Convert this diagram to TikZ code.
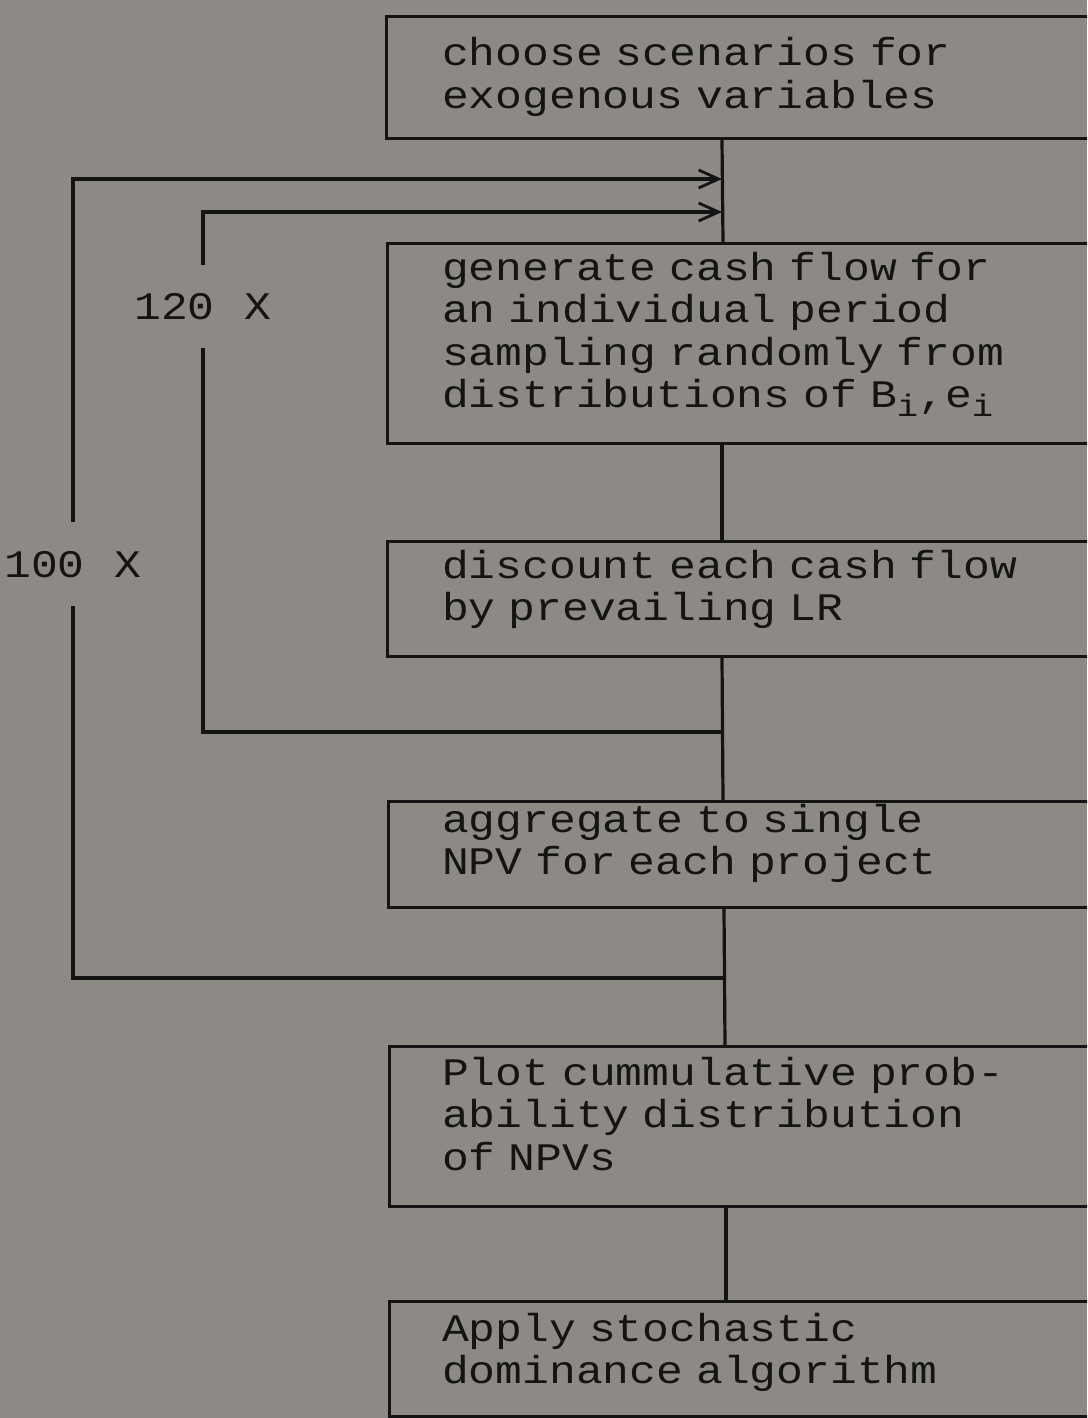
\documentclass[tikz,border=0pt]{standalone}
\usepackage{fontspec}
\newfontfamily\typefont{Liberation Mono}[FakeStretch=1.145,WordSpace=1.12]
\usetikzlibrary{arrows.meta,calc}
\definecolor{paper}{HTML}{8D8A86}
\definecolor{ink}{HTML}{141414}
\tikzset{
  stepbox/.style={draw=ink, line width=3.2pt, anchor=north west, minimum width=760pt, inner sep=0pt},
  steptext/.style={anchor=base west, text width=680pt, inner sep=0pt, align=left, text=ink, font=\typefont\fontsize{39}{42.5}\selectfont},
  looplabel/.style={inner sep=0pt, text height=26pt, text depth=0pt, text=ink, font=\typefont\fontsize{39}{42.5}\selectfont},
  link/.style={draw=ink, line width=3.2pt},
  backlink/.style={link, -{Straight Barb[length=20pt,width=18pt,line width=2.8pt]}},
}
\newcommand{\subi}{\raisebox{-9pt}{\fontsize{31}{31}\selectfont i}}

\begin{document}
\begin{tikzpicture}[x=1pt,y=-1pt]
  \useasboundingbox (0,0) rectangle (1087,1418);
  \fill[paper] (0,0) rectangle (1087,1418);
  \clip (0,0) rectangle (1087,1418);
  % Steps
  \node[stepbox, minimum height=122pt] (choose) at (385,15) {};
  \node[stepbox, minimum height=200pt] (gen) at (386,242) {};
  \node[stepbox, minimum height=115pt] (disc) at (386,540) {};
  \node[stepbox, minimum height=106pt] (aggr) at (387,800) {};
  \node[stepbox, minimum height=160pt] (plot) at (388,1045) {};
  \node[stepbox, minimum height=115pt] (apply) at (388,1300) {};
  % Step texts, first baseline below the top edge
  \node[steptext] (chooseTxt) at ($(choose.north west)+(57,51)$) {choose scenarios for\\exogenous variables};
  \node[steptext] (genTxt) at ($(gen.north west)+(56,38)$) {generate cash flow for\\an individual period\\sampling randomly from\\distributions of B\subi,e\subi};
  \node[steptext] (discTxt) at ($(disc.north west)+(56,38)$) {discount each cash flow\\by prevailing LR};
  \node[steptext] (aggrTxt) at ($(aggr.north west)+(55,32)$) {aggregate to single\\NPV for each project};
  \node[steptext] (plotTxt) at ($(plot.north west)+(54,40)$) {Plot cummulative prob-\\ability distribution\\of NPVs};
  \node[steptext] (applyTxt) at ($(apply.north west)+(54,41)$) {Apply stochastic\\dominance algorithm};
  % Loop counts
  \node[looplabel, minimum height=83pt] (twenty) at (203,306.5) {120 X};
  \node[looplabel, minimum height=84pt] (hundred) at (73,564) {100 X};
  % Main flow
  \draw[link] ([xshift=337pt]choose.south west) -- ([xshift=337pt]gen.north west);
  \draw[link] ([xshift=336pt]gen.south west) -- ([xshift=336pt]disc.north west);
  \draw[link] ([xshift=336pt]disc.south west) -- ([xshift=336pt]aggr.north west);
  \draw[link] ([xshift=337pt]aggr.south west) -- ([xshift=337pt]plot.north west);
  \draw[link] ([xshift=338pt]plot.south west) -- ([xshift=338pt]apply.north west);
  % Loops back to the top
  \coordinate (outerin) at (722,179);
  \coordinate (innerin) at (722,212);
  \coordinate (innerout) at (722,732);
  \coordinate (outerout) at (724,978);
  \draw[link] (innerout) -| (twenty.south);
  \draw[backlink] (twenty.north) |- (innerin);
  \draw[link] (outerout) -| (hundred.south);
  \draw[backlink] (hundred.north) |- (outerin);
\end{tikzpicture}
\end{document}
